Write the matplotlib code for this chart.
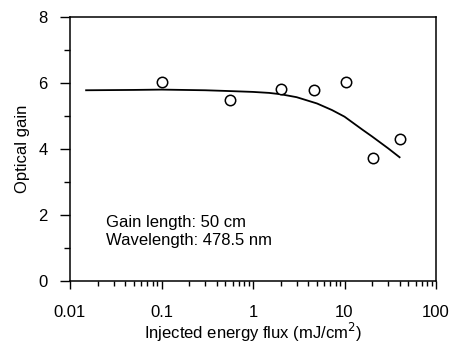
import matplotlib
matplotlib.use("Agg")
import matplotlib.pyplot as plt
from matplotlib.ticker import FixedLocator, FixedFormatter, LogLocator, NullFormatter

plt.rcParams['font.family'] = ['Liberation Sans', 'DejaVu Sans']

# measured data points
flux = [0.1, 0.56, 2.0, 4.7, 10.5, 20.5, 40.0]
gain = [6.02, 5.47, 5.81, 5.79, 6.02, 3.73, 4.31]

# fitted curve
curve_x = [0.015, 0.05, 0.1, 0.3, 0.5, 1.0, 1.5, 2.0, 3.0, 5.0, 7.3, 10.0, 15.8, 20.0, 30.0, 40.0]
curve_y = [5.78, 5.79, 5.80, 5.78, 5.76, 5.73, 5.70, 5.66, 5.57, 5.38, 5.18, 4.98, 4.58, 4.38, 4.02, 3.75]

xticks = [0.01, 0.1, 1, 10, 100]
xticklabels = ["0.01", "0.1", "1", "10", "100"]
yticks = [0, 2, 4, 6, 8]

fig = plt.figure(figsize=(4.51, 3.43), dpi=100)
ax = fig.add_axes([70/451, 1-281/343, 366/451, 264/343])

ax.plot(curve_x, curve_y, color='black', lw=1.3)
ax.plot(flux, gain, 'o', ms=7.5, mfc='white', mec='black', mew=1.1, ls='none')

ax.set_xscale('log')
ax.set_xlim(0.01, 100)
ax.set_ylim(0, 8)
ax.xaxis.set_major_locator(FixedLocator(xticks))
ax.xaxis.set_major_formatter(FixedFormatter(xticklabels))
ax.xaxis.set_minor_locator(LogLocator(base=10, subs=range(2, 10)))
ax.xaxis.set_minor_formatter(NullFormatter())
ax.set_yticks(yticks)
ax.set_yticks([1, 3, 5, 7], minor=True)

ax.tick_params(axis='x', which='major', direction='out', length=6, width=1, pad=11, labelsize=12)
ax.tick_params(axis='x', which='minor', direction='out', length=3.5, width=1)
ax.tick_params(axis='y', which='major', direction='out', length=7, width=1, pad=9, labelsize=12)
ax.tick_params(axis='y', which='minor', direction='out', length=4, width=1)
for s in ax.spines.values():
    s.set_linewidth(1.1)

ax.set_xlabel("Injected energy flux (mJ/cm$^2$)", fontsize=12, labelpad=1)
ax.set_ylabel("Optical gain", fontsize=12, labelpad=6)

ax.text(0.098, 0.1875, "Gain length: 50 cm\nWavelength: 478.5 nm", transform=ax.transAxes,
        ha='left', va='center', fontsize=12, linespacing=1.3)

fig.savefig("out.png", dpi=100)
